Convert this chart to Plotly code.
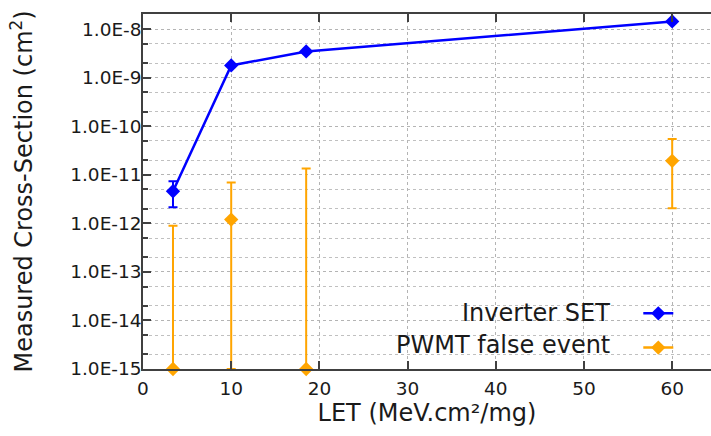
import plotly.graph_objects as go

# ---- data ----
let_inv = [3.4, 10.0, 18.5, 60.0]
xs_inv = [4.6e-12, 1.8e-9, 3.5e-9, 1.45e-8]
xs_inv_hi = [7.4e-12, 1.8e-9, 3.5e-9, 1.45e-8]
xs_inv_lo = [2.15e-12, 1.8e-9, 3.5e-9, 1.45e-8]

let_pwmt = [3.4, 10.0, 18.5, 60.0]
xs_pwmt = [1.0e-15, 1.2e-12, 1.0e-15, 1.95e-11]
xs_pwmt_hi = [9.0e-13, 7.0e-12, 1.35e-11, 5.5e-11]
xs_pwmt_lo = [1.0e-15, 1.0e-15, 1.0e-15, 2.05e-12]

series_names = ["Inverter SET", "PWMT false event"]
y_tickvals = [1e-15, 1e-14, 1e-13, 1e-12, 1e-11, 1e-10, 1e-9, 1e-8]
y_ticktext = ["1.0E-15", "1.0E-14", "1.0E-13", "1.0E-12", "1.0E-11", "1.0E-10", "1.0E-9", "1.0E-8"]
x_tickvals = [0, 10, 20, 30, 40, 50, 60]

BLUE = "#0000ff"
ORANGE = "#ffa500"
FONT = "DejaVu Sans"
AX = "#404040"


def err(y, hi, lo):
    return [h - v for v, h in zip(y, hi)], [v - l for v, l in zip(y, lo)]


def with_gaps(vals):
    # insert None between points so the "lines" mode draws no connecting line
    out = []
    for v in vals:
        out += [v, None]
    return out[:-1]


fig = go.Figure()

# Orange series: unconnected points (gaps), but legend shows line + marker
ep, em = err(xs_pwmt, xs_pwmt_hi, xs_pwmt_lo)
fig.add_trace(go.Scatter(
    x=with_gaps(let_pwmt), y=with_gaps(xs_pwmt), mode="lines+markers", name="",
    connectgaps=False,
    line=dict(color=ORANGE, width=2.5),
    marker=dict(symbol="diamond", size=11, color=ORANGE),
    error_y=dict(type="data", array=with_gaps(ep), arrayminus=with_gaps(em),
                 color=ORANGE, thickness=2, width=4.5),
    cliponaxis=False, showlegend=True, legendrank=2,
))
ep, em = err(xs_inv, xs_inv_hi, xs_inv_lo)
fig.add_trace(go.Scatter(
    x=let_inv, y=xs_inv, mode="lines+markers", name="",
    line=dict(color=BLUE, width=2.5),
    marker=dict(symbol="diamond", size=11, color=BLUE),
    error_y=dict(type="data", array=ep, arrayminus=em, color=BLUE, thickness=2, width=4.5),
    cliponaxis=False, showlegend=True, legendrank=1,
))

# legend texts (right aligned, symbol on the right as in the reference)
fig.add_annotation(xref="paper", yref="paper", x=0.825, y=0.158, text=series_names[0],
                   showarrow=False, xanchor="right", yanchor="middle",
                   font=dict(family=FONT, size=24, color="#1a1a1a"))
fig.add_annotation(xref="paper", yref="paper", x=0.825, y=0.068, text=series_names[1],
                   showarrow=False, xanchor="right", yanchor="middle",
                   font=dict(family=FONT, size=24, color="#1a1a1a"))

fig.update_layout(
    width=711, height=436,
    margin=dict(l=143, r=0, t=14, b=67),
    paper_bgcolor="white", plot_bgcolor="white",
    font=dict(family=FONT, color="#1a1a1a"),
    legend=dict(x=0.872, y=0.219, xanchor="left", yanchor="top",
                bgcolor="rgba(0,0,0,0)", font=dict(size=24), tracegroupgap=0),
    xaxis=dict(
        range=[0, 64.4], tickvals=x_tickvals,
        ticks="inside", ticklen=8, tickwidth=1.5, tickcolor=AX,
        showline=True, linecolor=AX, linewidth=1.5, mirror="ticks",
        showgrid=True, gridcolor="#b4b4b4", griddash="dot", gridwidth=1,
        zeroline=False, tickfont=dict(size=18.5), ticklabelstandoff=2,
        title=dict(text="LET (MeV.cm²/mg)", font=dict(size=24), standoff=4),
    ),
    yaxis=dict(
        type="log", range=[-15, -7.685],
        tickvals=y_tickvals, ticktext=y_ticktext,
        ticks="inside", ticklen=8, tickwidth=1.5, tickcolor=AX,
        showline=True, linecolor=AX, linewidth=1.5, mirror=False,
        showgrid=True, gridcolor="#b4b4b4", griddash="dot", gridwidth=1,
        minor=dict(dtick="D2", ticks="inside", ticklen=5, tickcolor=AX,
                   showgrid=True, gridcolor="#c0c0c0", griddash="dot", gridwidth=1),
        zeroline=False, tickfont=dict(size=18.5), ticklabelstandoff=-4,
        title=dict(text="Measured Cross-Section (cm<sup>2</sup>)", font=dict(size=24), standoff=31),
    ),
)

fig.write_html("out.html")
